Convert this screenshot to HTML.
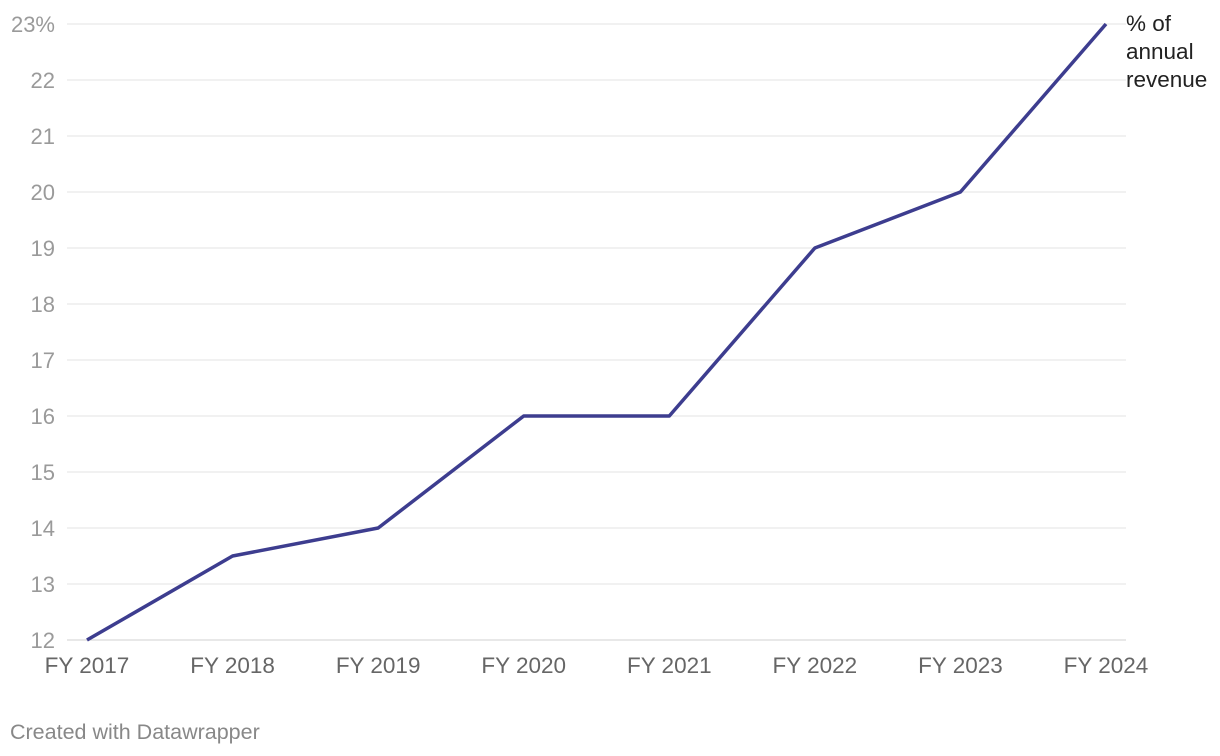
<!DOCTYPE html>
<html><head><meta charset="utf-8"><style>
body{margin:0;background:#fff;}
svg{display:block;font-family:"Liberation Sans",Arial,sans-serif;}
</style></head><body>
<svg id="chart" width="1220" height="756">
<g id="grid"></g><g id="ylab"></g><g id="xlab"></g><g id="series"></g>
<text x="1126" y="31" font-size="22.5" fill="#222"><tspan x="1126">% of</tspan><tspan x="1126" dy="28">annual</tspan><tspan x="1126" dy="28">revenue</tspan></text>
<text x="10" y="739" font-size="21.5" fill="#888">Created with Datawrapper</text>
</svg>
<script>
const categories=["FY 2017","FY 2018","FY 2019","FY 2020","FY 2021","FY 2022","FY 2023","FY 2024"];
const values=[12,13.5,14,16,16,19,20,23];
const yTicks=[12,13,14,15,16,17,18,19,20,21,22,23];
const NS="http://www.w3.org/2000/svg";
const x=i=>87+i*(1106-87)/(categories.length-1);
const y=v=>640-(v-12)*56;
function mk(t,a,p){const e=document.createElementNS(NS,t);for(const k in a)e.setAttribute(k,a[k]);p.appendChild(e);return e;}
const G=document.getElementById('grid'),YL=document.getElementById('ylab'),XL=document.getElementById('xlab'),S=document.getElementById('series');
yTicks.forEach((v,i)=>{
 const l=mk('line',{x1:67,x2:1126,y1:y(v),y2:y(v),stroke:i==0?'#d0d0d0':'#e3e3e3','stroke-width':1},G);
 
 
 const t=mk('text',{x:55,y:y(v)+8,'text-anchor':'end','font-size':22,fill:'#9a9a9a'},YL);
 t.textContent=i==yTicks.length-1?v+'%':v;
 
 
});
categories.forEach((c,i)=>{
 const t=mk('text',{x:x(i),y:673,'text-anchor':'middle','font-size':22.5,fill:'#666'},XL);
 t.textContent=c;
 
 
});
const p=mk('polyline',{points:values.map((v,i)=>x(i)+','+y(v)).join(' '),fill:'none',stroke:'#3d3d8f','stroke-width':3.5,'stroke-linejoin':'round'},S);


</script>
</body></html>
